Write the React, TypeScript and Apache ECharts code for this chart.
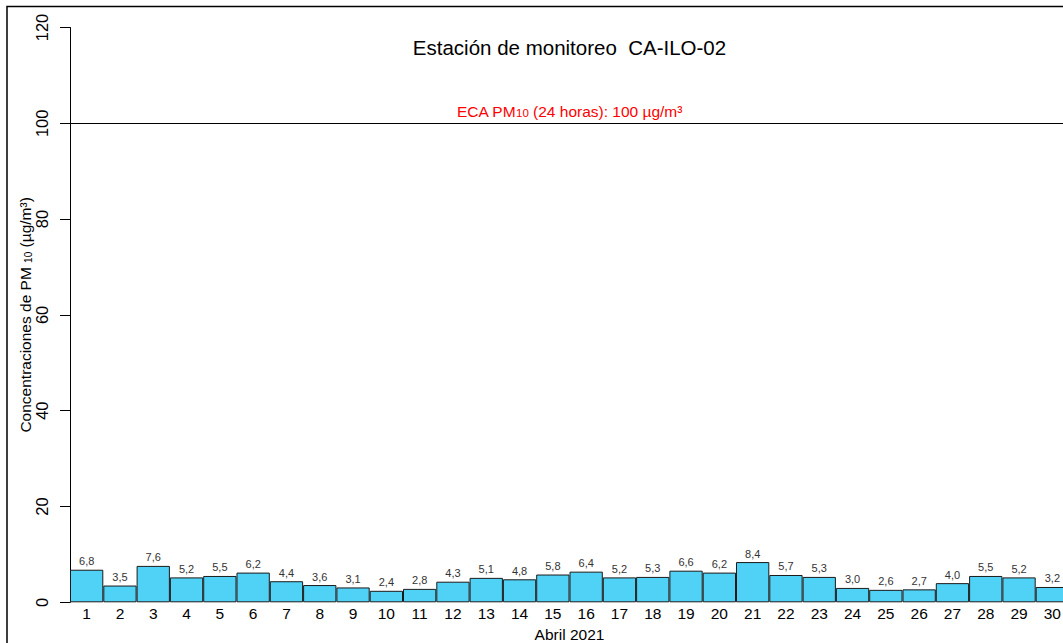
import React, { useEffect, useRef } from "react";
import * as echarts from "echarts";

const days: string[] = Array.from({ length: 30 }, (_, i) => String(i + 1));
const pm10Values: number[] = [
  6.8, 3.5, 7.6, 5.2, 5.5, 6.2, 4.4, 3.6, 3.1, 2.4, 2.8, 4.3, 5.1, 4.8, 5.8,
  6.4, 5.2, 5.3, 6.6, 6.2, 8.4, 5.7, 5.3, 3.0, 2.6, 2.7, 4.0, 5.5, 5.2, 3.2,
];
const ecaLimit = 100;
const yTicks = { min: 0, max: 120, interval: 20 };
const titleText = "Estación de monitoreo  CA-ILO-02";
const xAxisTitle = "Abril 2021";

const FONT = "'Liberation Sans', Arial, Helvetica, sans-serif";

export default function App() {
  const ref = useRef<HTMLDivElement>(null);

  useEffect(() => {
    document.body.style.margin = "0";
    document.body.style.overflow = "hidden";
    if (!ref.current) return;
    const chart = echarts.init(ref.current, undefined, { renderer: "svg" });
    const gridLeft = 70;
    const gridRight = -6;
    const plotCenter = (gridLeft + (1063 - gridRight)) / 2;

    chart.setOption({
      animation: false,
      backgroundColor: "#ffffff",
      textStyle: { fontFamily: FONT },
      grid: {
        left: gridLeft,
        right: gridRight,
        top: 27.5,
        bottom: 40.7,
        containLabel: false,
        outerBoundsMode: "none",
      },
      graphic: [
        {
          type: "rect",
          shape: { x: 7, y: 6.5, width: 3000, height: 3000 },
          style: { fill: "none", stroke: "#000", lineWidth: 1.5 },
          silent: true,
          z: 100,
        },
        {
          type: "text",
          x: plotCenter,
          y: 47,
          style: {
            text: titleText,
            fontSize: 20.5,
            fontFamily: FONT,
            fill: "#000",
            textAlign: "center",
            textVerticalAlign: "middle",
          },
        },
      ],
      xAxis: {
        type: "category",
        data: days,
        axisLine: { show: false },
        axisTick: { show: false },
        axisLabel: { fontSize: 15.5, color: "#000", margin: 3, fontFamily: FONT, interval: 0 },
        name: xAxisTitle,
        nameLocation: "middle",
        nameGap: 24,
        nameMoveOverlap: false,
        nameTextStyle: { fontSize: 15.5, color: "#000", fontFamily: FONT },
        splitLine: { show: false },
      },
      yAxis: {
        type: "value",
        min: yTicks.min,
        max: yTicks.max,
        interval: yTicks.interval,
        axisLine: { show: true, lineStyle: { color: "#000", width: 1 } },
        axisTick: { show: true, length: 10, lineStyle: { color: "#000", width: 1 } },
        splitLine: { show: false },
        axisLabel: { rotate: 90, fontSize: 16.5, color: "#000", margin: 20, fontFamily: FONT },
        name: "Concentraciones de PM {sub|10} (µg/m³)",
        nameLocation: "middle",
        nameGap: 37,
        nameRotate: 90,
        nameMoveOverlap: false,
        nameTextStyle: {
          fontSize: 15.5,
          color: "#000",
          fontFamily: FONT,
          rich: {
            sub: { fontSize: 10, color: "#000", fontFamily: FONT, verticalAlign: "bottom" },
          },
        },
      },
      series: [
        {
          type: "bar",
          data: pm10Values,
          barCategoryGap: "0%",
          itemStyle: { color: "#50D1F6", borderColor: "#1a1a1a", borderWidth: 1 },
          label: {
            show: true,
            position: "top",
            distance: 3,
            fontSize: 11,
            color: "#333",
            fontFamily: FONT,
            formatter: (p: any) => Number(p.value).toFixed(1).replace(".", ","),
          },
          markLine: {
            silent: true,
            symbol: "none",
            lineStyle: { color: "#000", width: 1, type: "solid" },
            data: [{ yAxis: ecaLimit }],
            label: {
              show: true,
              position: "middle",
              distance: 4,
              formatter: "ECA PM{sub|10} (24 horas): 100 µg/m³",
              color: "#ff0000",
              fontSize: 15.5,
              fontFamily: FONT,
              rich: {
                sub: { fontSize: 11.5, color: "#ff0000", fontFamily: FONT, verticalAlign: "bottom", padding: [4, 0, 0, 0] },
              },
            },
          },
        },
      ],
    });
    return () => chart.dispose();
  }, []);

  return <div ref={ref} style={{ width: 1063, height: 643 }} />;
}
